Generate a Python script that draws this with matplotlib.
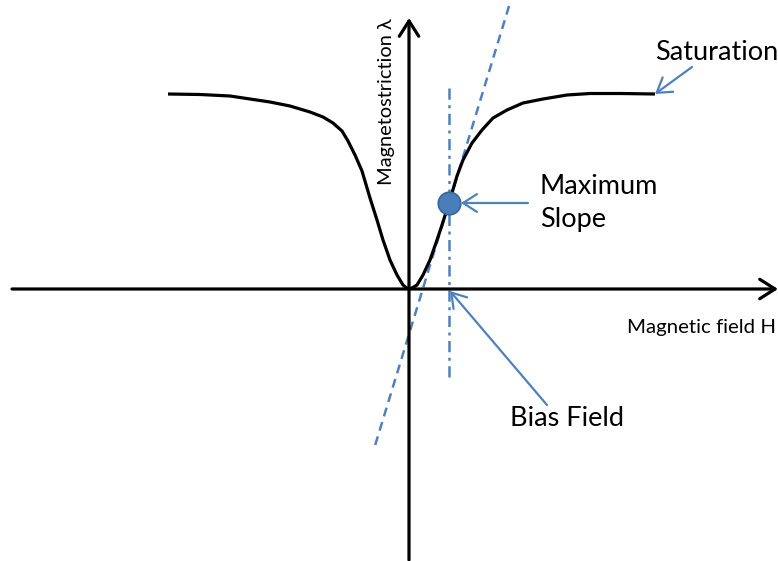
import numpy as np
import matplotlib.pyplot as plt

# magnetostriction curve, read point by point (H, lambda) in arbitrary units
curve_H = [-241, -209, -179, -159, -139, -119, -99, -86, -76, -67, -61, -54, -47, -39,
           -32, -26, -19, -12, -6, -3, 0,
           3, 8, 14, 21, 28, 33, 40, 48, 54, 63, 73, 84, 98, 114, 134, 158, 181, 211, 246]
curve_L = [195, 194.5, 193, 190, 187, 183, 177, 172, 166, 158, 148, 134, 118, 91,
           69, 49, 29, 14, 4, 1.5, 0,
           1, 4, 14, 29, 49, 64, 86, 113, 129, 146, 159, 171, 179, 186, 190, 194, 195.5,
           195.5, 195]

bias_field = 40          # operating point on the H axis
max_slope_L = 86         # lambda at the operating point
tangent_slope = 3.28     # d(lambda)/dH at the operating point
tangent_L_range = (-156, 287)
bias_L_range = (-88, 202)

blue = '#4F81BD'
font = ['Lato', 'DejaVu Sans']

fig = plt.figure(figsize=(7.78, 5.61), dpi=100)
ax = fig.add_axes([0, 0, 1, 1])
ax.set_xlim(-409, 369)
ax.set_ylim(-272, 289)
ax.axis('off')

# axes with arrow heads
axis_kw = dict(arrowstyle='->,head_length=0.55,head_width=0.35', color='black',
               lw=2.3, mutation_scale=20, shrinkA=0, shrinkB=0)
ax.annotate('', xy=(369, 0), xytext=(-397, 0), arrowprops=axis_kw)
ax.annotate('', xy=(0, 271), xytext=(0, -271), arrowprops=axis_kw)

# curve
ax.plot(curve_H, curve_L, color='black', lw=2.3, solid_joinstyle='round',
        solid_capstyle='butt', zorder=3)

# tangent at maximum slope
tL = np.array(tangent_L_range)
tH = bias_field + (tL - max_slope_L) / tangent_slope
ax.plot(tH, tL, color=blue, lw=1.8, linestyle=(0, (3.6, 2.4)), zorder=2)

# bias field marker line
ax.plot([bias_field, bias_field], bias_L_range, color=blue, lw=1.8,
        linestyle=(0, (4.5, 2.2, 1.2, 2.2)), zorder=2)

# maximum slope point
ax.scatter([bias_field], [max_slope_L], s=260, color='#4A7EBB',
           edgecolors='#3A669E', linewidths=1.3, zorder=4)

# labels and pointers
arrow_kw = dict(arrowstyle='->,head_length=0.5,head_width=0.32', color=blue,
                lw=1.6, mutation_scale=20, shrinkA=0, shrinkB=0)
ax.annotate('', xy=(246, 195), xytext=(283, 222), arrowprops=arrow_kw)
ax.annotate('', xy=(52, max_slope_L), xytext=(119, max_slope_L), arrowprops=arrow_kw)
ax.annotate('', xy=(bias_field + 1, -2), xytext=(138, -116), arrowprops=arrow_kw)

ax.text(246, 237, 'Saturation', fontsize=19.5, family=font, ha='left', va='center')
ax.text(131, 86, 'Maximum\nSlope', fontsize=19.5, family=font, ha='left', va='center',
        linespacing=1.38)
ax.text(101, -129, 'Bias Field', fontsize=19.5, family=font, ha='left', va='center')
ax.text(218, -39, 'Magnetic field H', fontsize=14.7, family=font, ha='left', va='center')
ax.text(-22, 187, 'Magnetostriction λ', fontsize=14.4, family=font, ha='center',
        va='center', rotation=90)

fig.savefig('out.png', dpi=100)
